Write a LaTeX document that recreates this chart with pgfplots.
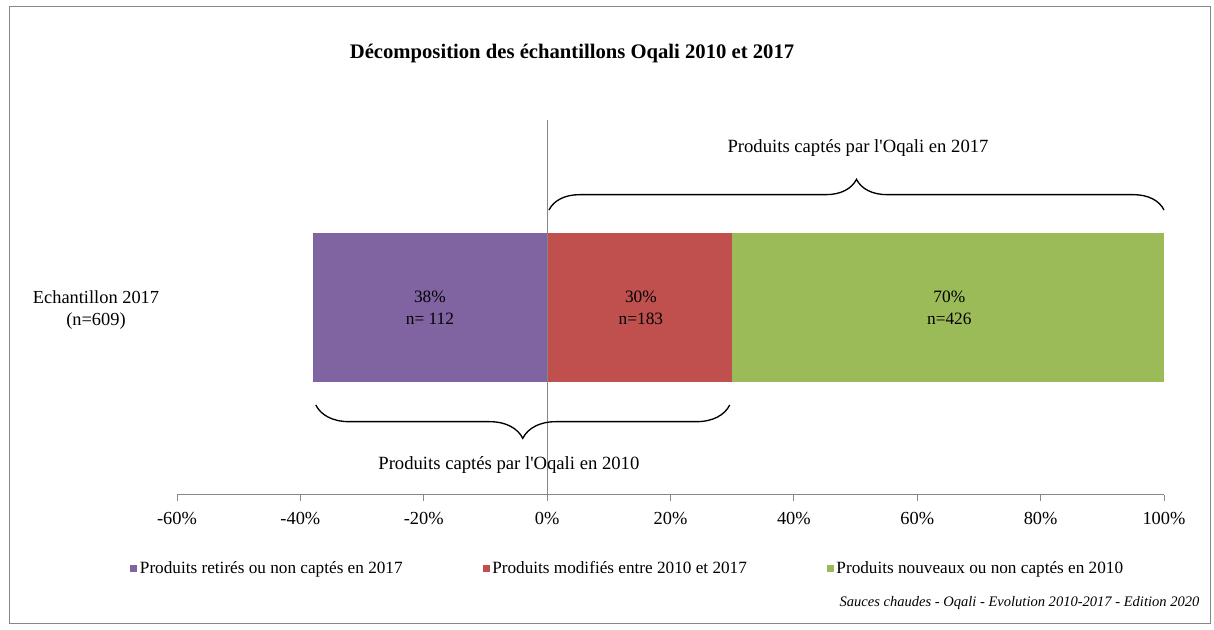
\documentclass[border=0pt]{standalone}
\usepackage{fontspec}
\setmainfont{Liberation Serif}
\usepackage{pgfplots}
\pgfplotsset{compat=1.18}
\usetikzlibrary{decorations.pathreplacing}
\definecolor{cpurple}{HTML}{8064A2}
\definecolor{cred}{HTML}{C0504D}
\definecolor{cgreen}{HTML}{9BBB59}
\definecolor{axgray}{HTML}{868686}
\begin{document}
\begin{tikzpicture}
\useasboundingbox (0,0) rectangle (910.5pt,472.5pt);
\draw[axgray, line width=0.75pt] (6.75pt,4.5pt) rectangle (907.5pt,467.25pt);
\node[font=\fontsize{15.5}{18}\selectfont\bfseries] at (429pt,432pt) {Décomposition des échantillons Oqali 2010 et 2017};
\node[align=center,font=\fontsize{13.8}{17}\selectfont] at (72pt,240pt) {Echantillon 2017\\(n=609)};
\node[anchor=east, font=\fontsize{10.9}{12}\selectfont\itshape] at (903pt,20.25pt) {Sauces chaudes - Oqali - Evolution 2010-2017 - Edition 2020};

\begin{axis}[
  at={(132.75pt,101.25pt)}, anchor=south west,
  scale only axis, width=740.25pt, height=281.25pt,
  xmin=-60, xmax=100, ymin=-1, ymax=1,
  hide axis, clip=false,
  xbar stacked, bar width=111.75pt,
]
\addplot[fill=cred, draw=none] coordinates {(30,0)};
\addplot[fill=cgreen, draw=none] coordinates {(70,0)};
\end{axis}

\begin{axis}[
  at={(132.75pt,101.25pt)}, anchor=south west,
  scale only axis, width=740.25pt, height=281.25pt,
  xmin=-60, xmax=100, ymin=-1, ymax=1,
  clip=false,
  axis x line*=bottom, axis y line=none,
  x axis line style={axgray, line width=0.75pt},
  xtick={-60,-40,-20,0,20,40,60,80,100},
  xticklabels={-60\%,-40\%,-20\%,0\%,20\%,40\%,60\%,80\%,100\%},
  tick align=outside, major tick length=4.5pt,
  x tick style={axgray, line width=0.75pt},
  xticklabel style={font=\fontsize{13.8}{15}\selectfont, yshift=-5pt},
  ytick=\empty,
  xbar, bar width=111.75pt,
  legend style={at={(0.457,-0.196)}, anchor=center, draw=none, fill=none, legend columns=3,
    font=\fontsize{12.9}{15}\selectfont,
    nodes={text height=1.8ex, text depth=0.3ex},
    /tikz/every even column/.append style={column sep=58pt}},
  legend image code/.code={\fill[#1] (0pt,-2.6pt) rectangle (5.2pt,2.6pt);},
]
\addplot[fill=cpurple, draw=none] coordinates {(-38,0)};
\addlegendentry{Produits retirés ou non captés en 2017}
\addlegendimage{fill=cred, draw=none}
\addlegendentry{Produits modifiés entre 2010 et 2017}
\addlegendimage{fill=cgreen, draw=none}
\addlegendentry{Produits nouveaux ou non captés en 2010}
\draw[axgray, line width=0.75pt] (axis cs:0,-1) -- (axis cs:0,1);
\draw[decorate, decoration={brace, amplitude=23pt}, line width=1pt] (axis cs:0.3,0.52) -- (axis cs:100,0.52);
\draw[decorate, decoration={brace, amplitude=25pt}, line width=1pt] (axis cs:29.6,-0.52) -- (axis cs:-37.5,-0.52);
\node[font=\fontsize{14}{16}\selectfont] at (axis cs:50.4,0.851) {Produits captés par l\textquotesingle Oqali en 2017};
\node[font=\fontsize{14}{16}\selectfont] at (axis cs:-6.2,-0.84) {Produits captés par l\textquotesingle Oqali en 2010};
\node[align=center, font=\fontsize{13}{16.5}\selectfont] at (axis cs:-19,0) {38\%\\n=~112};
\node[align=center, font=\fontsize{13}{16.5}\selectfont] at (axis cs:15.2,0) {30\%\\n=183};
\node[align=center, font=\fontsize{13}{16.5}\selectfont] at (axis cs:65.2,0) {70\%\\n=426};
\end{axis}
\end{tikzpicture}
\end{document}
